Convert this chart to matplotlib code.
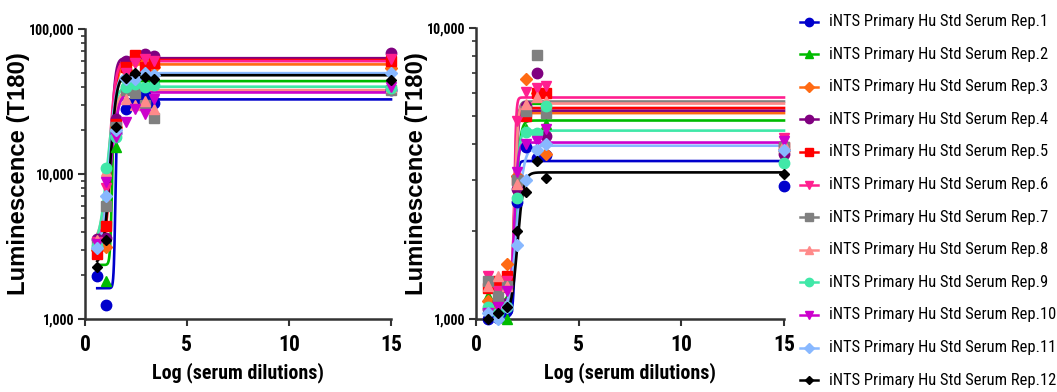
import numpy as np
import matplotlib
matplotlib.use("Agg")
import matplotlib.pyplot as plt
from matplotlib import font_manager
from matplotlib.font_manager import FontProperties
from matplotlib.lines import Line2D
from matplotlib.ticker import LogLocator, NullFormatter

# ---------------- data ----------------
labels = [f"iNTS Primary Hu Std Serum Rep.{i}" for i in range(1, 13)]
colors = ["#0000CC", "#00BB00", "#FF6A13", "#800080", "#FF0000", "#FF1F8F",
          "#808080", "#FF8A8A", "#40E8A8", "#CC00CC", "#88B8FF", "#000000"]
markers = ["o", "^", "D", "o", "s", "v", "s", "^", "o", "v", "D", "D"]
msizes = [7.5, 7.5, 6.5, 7.5, 7.5, 7.5, 7.5, 7.5, 7.5, 7.5, 6.5, 5.5]

x_dil = [0.6, 1.05, 1.5, 2.0, 2.45, 2.95, 3.4, 15]
x_ticks = [0, 5, 10, 15]
left_yticks = [1000, 10000, 100000]
left_yticklabels = ["1,000", "10,000", "100,000"]
right_yticks = [1000, 10000]
right_yticklabels = ["1,000", "10,000"]

left_y = [
    [1980, 1250, 19200, 27900, 30800, 35100, 31000, 37900],
    [2850, 1830, 15400, 39600, 44000, 50000, 46000, 43000],
    [3000, 3150, 21000, 52000, 60000, 60000, 55000, 54000],
    [3560, 3600, 24000, 60000, 64000, 67000, 65000, 68000],
    [2800, 4400, 22000, 55000, 66000, 55000, 58000, 60000],
    [3400, 8000, 20000, 50000, 58000, 62000, 60000, 62000],
    [3300, 6000, 21000, 38000, 36000, 30000, 24400, 38000],
    [3500, 10500, 20000, 33000, 30000, 32000, 28000, 40000],
    [3200, 11000, 18000, 40000, 42000, 40000, 41000, 39000],
    [3300, 8850, 18000, 23000, 28000, 26000, 33000, 40000],
    [3100, 7000, 20000, 45000, 45000, 50000, 48000, 50000],
    [2300, 3500, 21000, 46000, 50000, 47000, 45000, 44700],
]
left_bottom = [1630, 2360, 3100, 3500, 2900, 3300, 3200, 3400, 3200, 3300, 3100, 2400]
left_top = [32700, 43700, 57000, 62900, 61100, 60000, 37000, 37900, 40000, 36500, 49600, 48000]
left_ec50 = [1.55, 1.40, 1.45, 1.40, 1.45, 1.38, 1.40, 1.35, 1.30, 1.45, 1.40, 1.42]
left_hill = [12, 10, 3.5, 4.5, 3.8, 3.2, 3.0, 2.5, 2.6, 2.6, 3.0, 3.2]

right_y = [
    [1000, 1010, 1076, 2520, 3890, 3570, 3650, 2860],
    [1200, 1150, 1000, 2900, 4500, 5700, 4660, 4100],
    [1150, 1080, 1550, 3100, 6700, 6000, 3700, 3800],
    [1080, 1150, 1300, 2800, 5410, 7030, 4250, 3700],
    [1280, 1350, 1400, 3000, 5000, 6000, 6000, 3900],
    [1400, 1250, 1350, 4780, 6050, 6200, 6300, 4200],
    [1350, 1200, 1300, 3000, 5200, 8050, 5100, 3900],
    [1300, 1400, 1300, 2900, 5500, 5800, 5600, 4000],
    [1100, 1050, 1100, 2600, 4400, 4360, 5400, 3440],
    [1050, 1100, 1250, 3200, 4000, 4100, 4500, 4100],
    [1050, 1000, 1100, 1800, 3000, 3800, 4000, 3800],
    [1000, 1050, 1100, 2000, 2730, 3500, 3050, 3150],
]
right_bottom = [1020, 1150, 1262, 1160, 1240, 1300, 1250, 1300, 1100, 1120, 1050, 1030]
right_top = [3490, 4810, 5100, 5200, 5310, 5770, 5590, 5500, 4440, 4040, 3940, 3190]
right_ec50 = [1.95, 2.00, 1.90, 1.95, 1.92, 1.90, 1.95, 1.95, 1.98, 1.92, 2.10, 2.10]
right_hill = [8, 4, 10, 6, 8, 10, 6, 6, 5, 5, 2.5, 3]


# ---------------- fonts ----------------
def _wt(w):
    if isinstance(w, str):
        return font_manager.weight_dict.get(w, 400)
    return int(w)


def pick_font(bold):
    prefs = ["liberation sans narrow", "arial narrow", "roboto condensed",
             "open sans condensed", "noto sans", "dejavu sans", "lato", "inter",
             "roboto", "open sans", "liberation sans"]
    best = None
    for f in font_manager.fontManager.ttflist:
        nm = f.name.lower()
        fn = f.fname.lower()
        if f.style != "normal" or "italic" in fn or "oblique" in fn:
            continue
        narrow = ("narrow" in fn or "condensed" in fn or "narrow" in nm or "condensed" in nm
                  or f.stretch in ("condensed", "semi-condensed", "extra-condensed",
                                   "ultra-condensed"))
        if not narrow or "extra" in fn or "ultra" in fn or "semi" in fn:
            continue
        w = _wt(f.weight)
        if bold and not (600 <= w <= 800):
            continue
        if not bold and not (350 <= w <= 500):
            continue
        rank = next((k for k, p in enumerate(prefs) if nm.startswith(p)), 99)
        if best is None or rank < best[0]:
            best = (rank, f.fname)
    if best is not None:
        return FontProperties(fname=best[1])
    return FontProperties(family=["Liberation Sans", "DejaVu Sans"],
                          weight="bold" if bold else "normal")


FP_REG = pick_font(False)
FP_BOLD = pick_font(True)
FP_YLAB = FontProperties(family=["Liberation Sans", "DejaVu Sans"], weight="bold")

# ---------------- figure ----------------
W, H = 1057, 392
fig = plt.figure(figsize=(W / 100, H / 100), dpi=100)


def ax_rect(x0, y0, x1, y1):
    return [x0 / W, 1 - y1 / H, (x1 - x0) / W, (y1 - y0) / H]


axL = fig.add_axes(ax_rect(85, 29, 391, 319))
axR = fig.add_axes(ax_rect(476, 28, 784, 319))

xs = np.linspace(0.6, 15, 1500)


def fourpl(x, b, t, c, h):
    return b + (t - b) / (1 + 10 ** ((c - x) * h))


panels = [
    (axL, left_y, left_bottom, left_top, left_ec50, left_hill, (1000, 100000),
     left_yticks, left_yticklabels),
    (axR, right_y, right_bottom, right_top, right_ec50, right_hill, (1000, 10000),
     right_yticks, right_yticklabels),
]

for ax, ydata, bot, top, ec, hl, ylim, yt, ytl in panels:
    for i in range(12):
        ax.plot(xs, fourpl(xs, bot[i], top[i], ec[i], hl[i]), color=colors[i], lw=1.9,
                zorder=2, clip_on=False)
    for i in range(12):
        ax.plot(x_dil, ydata[i], linestyle="none", marker=markers[i], color=colors[i],
                ms=msizes[i], zorder=3, clip_on=False)
    ax.set_yscale("log")
    ax.set_ylim(*ylim)
    ax.set_xlim(0, 15)
    ax.set_xticks(x_ticks)
    ax.set_xticklabels([str(v) for v in x_ticks], fontproperties=FP_BOLD)
    ax.set_yticks(yt)
    ax.set_yticklabels(ytl, fontproperties=FP_BOLD)
    ax.yaxis.set_minor_locator(LogLocator(base=10, subs=np.arange(2, 10)))
    ax.yaxis.set_minor_formatter(NullFormatter())
    for s in ["top", "right"]:
        ax.spines[s].set_visible(False)
    for s in ["left", "bottom"]:
        ax.spines[s].set_linewidth(1.8)
        ax.spines[s].set_color("#333333")
    ax.tick_params(axis="x", which="major", length=5, width=1.5, color="#333333", pad=6)
    ax.tick_params(axis="y", which="major", length=5, width=1.5, color="#333333", pad=3)
    ax.tick_params(axis="y", which="minor", length=3, width=1.2, color="#333333")
    ax.set_xlabel("Log (serum dilutions)", fontproperties=FP_BOLD)
    ax.set_ylabel("Luminescence (T180)", fontproperties=FP_YLAB)
    ax.set_facecolor("none")

# Legend (drawn at right, as in the reference)
leg_texts = []
for i in range(12):
    yp = 1 - (21.5 + 32.6 * i) / H
    fig.add_artist(Line2D([800 / W, 818 / W], [yp, yp], color=colors[i], lw=1.8,
                          transform=fig.transFigure))
    fig.add_artist(Line2D([809 / W], [yp], color=colors[i], marker=markers[i],
                          ms=msizes[i] * 0.8, linestyle="none", transform=fig.transFigure))
    leg_texts.append(fig.text(829 / W, yp, labels[i], fontproperties=FP_REG,
                              va="center", ha="left"))

# ---------------- fit text sizes to the reference ----------------
fig.canvas.draw()
r = fig.canvas.get_renderer()


def scale_for(t, target, use_h=False):
    bb = t.get_window_extent(r)
    cur = bb.height if use_h else bb.width
    return t.get_fontsize() * target / cur


s_leg = scale_for(leg_texts[0], 218)
for t in leg_texts:
    t.set_fontsize(s_leg)

s_xl = scale_for(axL.xaxis.label, 172)
s_yl = scale_for(axL.yaxis.label, 243, use_h=True)
s_yt = scale_for(axL.get_yticklabels()[-1], 46)
s_xt = scale_for(axL.get_xticklabels()[2], 22)
for ax in (axL, axR):
    ax.xaxis.label.set_fontsize(s_xl)
    ax.yaxis.label.set_fontsize(s_yl)
    for t in ax.get_yticklabels():
        t.set_fontsize(s_yt)
    for t in ax.get_xticklabels():
        t.set_fontsize(s_xt)

axL.xaxis.set_label_coords(0.5, -0.148)
axR.xaxis.set_label_coords(0.5, -0.148)
axL.yaxis.set_label_coords((30 - 85) / 306, 0.5)
axR.yaxis.set_label_coords((428 - 476) / 308, 0.5)

fig.savefig("out.png", dpi=100)
